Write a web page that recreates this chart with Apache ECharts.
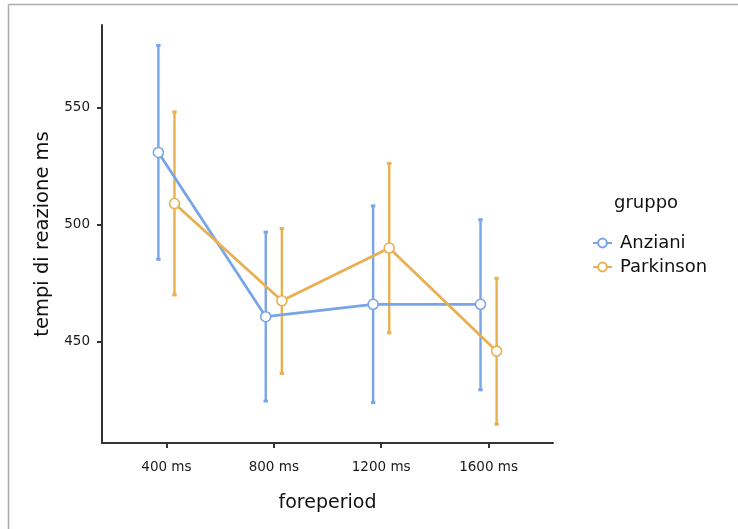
<!DOCTYPE html>
<html>
<head>
<meta charset="utf-8">
<script src="https://cdn.jsdelivr.net/npm/echarts@6/dist/echarts.min.js"></script>
<style>
  html, body { margin: 0; padding: 0; background: #fff; }
  #chart { width: 738px; height: 529px; }
</style>
</head>
<body>
<div id="chart"></div>
<script>
// Foreperiod conditions (x categories)
const categories = ['400 ms', '800 ms', '1200 ms', '1600 ms'];
const groups = ['Anziani', 'Parkinson'];

// Mean reaction times (ms) per group
const anzianiMean = [530.8, 460.7, 466.0, 466.0];
const parkinsonMean = [509.0, 467.5, 490.0, 446.0];

// Error bar limits (ms)
const anzianiLow = [485.2, 424.7, 424.1, 429.5];
const anzianiHigh = [576.5, 496.8, 508.0, 502.1];
const parkinsonLow = [470.0, 436.5, 453.8, 414.8];
const parkinsonHigh = [548.1, 498.3, 526.1, 477.1];

const yTicks = [450, 500, 550];

const colors = { Anziani: '#78a5e6', Parkinson: '#e8b050' };
const dodge = { Anziani: -0.075, Parkinson: 0.075 };
const font = '"DejaVu Sans", "Liberation Sans", sans-serif';

function points(group, means) {
  return means.map((v, i) => [i + 1 + dodge[group], v]);
}
function bars(group, lows, highs) {
  return lows.map((lo, i) => [i + 1 + dodge[group], lo, highs[i]]);
}

function errorBarSeries(group, lows, highs) {
  const color = colors[group];
  return {
    type: 'custom',
    name: group + ' err',
    z: 1,
    silent: true,
    data: bars(group, lows, highs),
    encode: { x: 0, y: [1, 2] },
    renderItem: function (params, api) {
      const x = api.value(0);
      const lo = api.coord([x, api.value(1)]);
      const hi = api.coord([x, api.value(2)]);
      const cap = 2.2;
      return {
        type: 'group',
        children: [
          { type: 'line', shape: { x1: lo[0], y1: lo[1], x2: hi[0], y2: hi[1] }, style: { stroke: color, lineWidth: 2.4 } },
          { type: 'line', shape: { x1: lo[0] - cap, y1: lo[1], x2: lo[0] + cap, y2: lo[1] }, style: { stroke: color, lineWidth: 3 } },
          { type: 'line', shape: { x1: hi[0] - cap, y1: hi[1], x2: hi[0] + cap, y2: hi[1] }, style: { stroke: color, lineWidth: 3 } }
        ]
      };
    }
  };
}

function lineSeries(group, means) {
  const color = colors[group];
  return {
    type: 'line',
    name: group,
    z: 3,
    data: points(group, means),
    symbol: 'circle',
    symbolSize: 10,
    itemStyle: { color: '#fff', borderColor: color, borderWidth: 1.6 },
    lineStyle: { color: color, width: 2.8 },
    emphasis: { disabled: true }
  };
}

const chart = echarts.init(document.getElementById('chart'), null, { renderer: 'canvas' });

chart.setOption({
  animation: false,
  backgroundColor: '#fff',
  grid: { left: 102, right: 185, top: 25, bottom: 86, containLabel: false },
  xAxis: {
    type: 'value',
    min: 0.4,
    max: 4.6,
    name: 'foreperiod',
    nameLocation: 'middle',
    nameGap: 51,
    nameTextStyle: { fontFamily: font, fontSize: 19, color: '#111' },
    axisLine: { show: true, lineStyle: { color: '#333', width: 2 } },
    axisTick: { show: true, length: 5, lineStyle: { color: '#333', width: 2 }, customValues: [1, 2, 3, 4] },
    axisLabel: {
      fontFamily: font, fontSize: 13.5, color: '#1a1a1a', margin: 17,
      customValues: [1, 2, 3, 4],
      formatter: v => categories[Math.round(v) - 1]
    },
    splitLine: { show: false }
  },
  yAxis: {
    type: 'value',
    min: 406.8,
    max: 585.2,
    name: 'tempi di reazione ms',
    nameLocation: 'middle',
    nameGap: 49,
    nameTextStyle: { fontFamily: font, fontSize: 19.5, color: '#111' },
    axisLine: { show: true, lineStyle: { color: '#333', width: 2 } },
    axisTick: { show: true, length: 5, lineStyle: { color: '#333', width: 2 }, customValues: yTicks },
    axisLabel: { fontFamily: font, fontSize: 13.5, color: '#1a1a1a', margin: 12, customValues: yTicks },
    splitLine: { show: false }
  },
  legend: {
    data: groups,
    orient: 'vertical',
    left: 587,
    top: 229,
    itemWidth: 19,
    itemHeight: 11,
    itemGap: 6,
    textStyle: { fontFamily: font, fontSize: 18, color: '#111', padding: [0, 0, 0, 3] },
    selectedMode: false
  },
  graphic: [
    { type: 'text', left: 614, top: 194, style: { text: 'gruppo', font: '18px ' + font, fill: '#111' } },
    { type: 'line', shape: { x1: 8.5, y1: 4.5, x2: 738, y2: 4.5 }, style: { stroke: '#aaa', lineWidth: 1.5 } },
    { type: 'line', shape: { x1: 8.5, y1: 4.5, x2: 8.5, y2: 529 }, style: { stroke: '#aaa', lineWidth: 1.5 } }
  ],
  series: [
    errorBarSeries('Anziani', anzianiLow, anzianiHigh),
    errorBarSeries('Parkinson', parkinsonLow, parkinsonHigh),
    lineSeries('Anziani', anzianiMean),
    lineSeries('Parkinson', parkinsonMean)
  ]
});
</script>
</body>
</html>
